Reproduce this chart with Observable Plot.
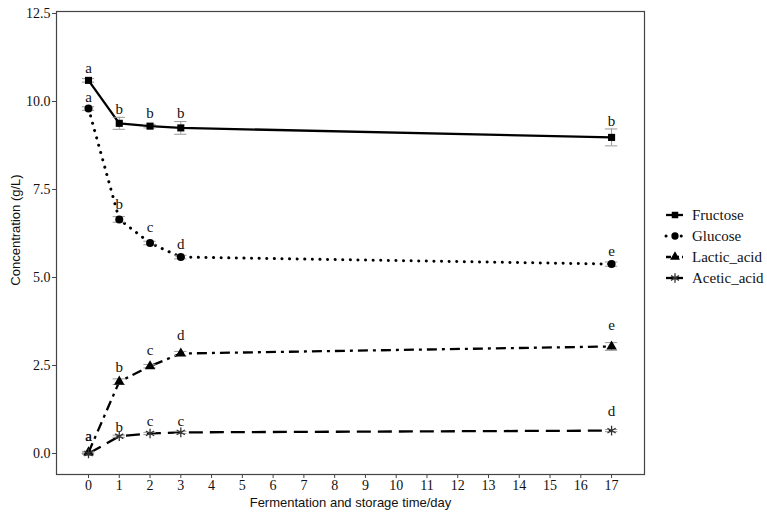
<!DOCTYPE html>
<html><head><meta charset="utf-8">
<script src="https://cdn.jsdelivr.net/npm/d3@7"></script>
<script src="https://cdn.jsdelivr.net/npm/@observablehq/plot@0.6"></script>
<style>
body{margin:0;background:#fff}
#wrap{position:relative;width:767px;height:519px}
#legend{position:absolute;left:660px;top:200px}
</style>
</head><body><div id="wrap"></div>
<script>
const days = [0, 1, 2, 3, 17];
const seriesNames = ["Fructose", "Glucose", "Lactic_acid", "Acetic_acid"];
const fructose = [10.6, 9.38, 9.3, 9.25, 8.98];
const glucose = [9.8, 6.65, 5.98, 5.58, 5.38];
const lactic = [0.03, 2.04, 2.48, 2.84, 3.04];
const acetic = [0.0, 0.49, 0.57, 0.6, 0.65];
const fructoseSd = [0.05, 0.17, 0.05, 0.18, 0.24];
const glucoseSd = [0.05, 0.08, 0.05, 0.05, 0.06];
const lacticSd = [0.03, 0.08, 0.05, 0.06, 0.11];
const aceticSd = [0.02, 0.03, 0.03, 0.03, 0.03];
const fructoseLetters = ["a", "b", "b", "b", "b"];
const glucoseLetters = ["a", "b", "c", "d", "e"];
const lacticLetters = ["a", "b", "c", "d", "e"];
const aceticLetters = ["a", "b", "c", "c", "d"];
const fructoseLetterY = [10.94, 9.77, 9.66, 9.66, 9.43];
const glucoseLetterY = [10.11, 7.07, 6.43, 5.96, 5.74];
const lacticLetterY = [0.48, 2.45, 2.93, 3.37, 3.64];
const aceticLetterY = [0.48, 0.75, 0.92, 0.92, 1.19];
const xTicks = d3.range(0, 18);
const yTicks = [0, 2.5, 5, 7.5, 10, 12.5];

const values = [fructose, glucose, lactic, acetic];
const sds = [fructoseSd, glucoseSd, lacticSd, aceticSd];
const letters = [fructoseLetters, glucoseLetters, lacticLetters, aceticLetters];
const letterYs = [fructoseLetterY, glucoseLetterY, lacticLetterY, aceticLetterY];

const rows = [];
seriesNames.forEach((s, i) => days.forEach((d, j) => rows.push({
  series: s, day: d, v: values[i][j], sd: sds[i][j], letter: letters[i][j], ly: letterYs[i][j]
})));

const styles = {
  Fructose: {dash: null, cap: "butt", symbol: "square", r: 4},
  Glucose: {dash: "0.1 7.5", cap: "round", symbol: "circle", r: 4},
  Lactic_acid: {dash: "10 5 3 5", cap: "butt", symbol: "triangle", r: 3.9},
  Acetic_acid: {dash: "14 7", cap: "butt", symbol: "asterisk", r: 4.5}
};

const lineMarks = seriesNames.map(s => Plot.line(rows.filter(d => d.series === s), {
  x: "day", y: "v", stroke: "black", strokeWidth: s === "Glucose" ? 3 : 2.3,
  strokeDasharray: styles[s].dash, strokeLinecap: styles[s].cap
}));
const dotMarks = seriesNames.map(s => Plot.dot(rows.filter(d => d.series === s), {
  x: "day", y: "v", symbol: () => styles[s].symbol, r: styles[s].r,
  fill: styles[s].symbol === "asterisk" ? "none" : "black",
  stroke: styles[s].symbol === "asterisk" ? "#333" : "none", strokeWidth: 1.3
}));

const chart = Plot.plot({
  width: 767, height: 519,
  marginLeft: 56, marginRight: 123, marginTop: 11, marginBottom: 45,
  style: {fontFamily: "'Liberation Serif', serif", fontSize: "14px", color: "#222", background: "white"},
  x: {domain: [-1.04, 18.07], label: null},
  y: {domain: [-0.597, 12.557], label: null},
  symbol: {domain: ["square", "circle", "triangle", "asterisk"], range: ["square", "circle", "triangle", "asterisk"]},
  marks: [
    Plot.axisX({ticks: xTicks, tickFormat: d => d, tickSize: 4, tickPadding: 2, stroke: "#444", fill: "#111", label: null}),
    Plot.axisY({ticks: yTicks, tickFormat: d3.format(".1f"), tickSize: 4, tickPadding: 2, stroke: "#444", fill: "#111", label: null}),
    ...lineMarks,
    Plot.ruleX(rows, {x: "day", y1: d => d.v - d.sd, y2: d => d.v + d.sd, stroke: "#999", strokeWidth: 1}),
    Plot.ruleY(rows, {y: d => d.v - d.sd, x1: d => d.day - 0.2, x2: d => d.day + 0.2, stroke: "#999", strokeWidth: 1}),
    Plot.ruleY(rows, {y: d => d.v + d.sd, x1: d => d.day - 0.2, x2: d => d.day + 0.2, stroke: "#999", strokeWidth: 1}),
    ...dotMarks,
    Plot.text(rows, {x: "day", y: "ly", text: "letter", fontSize: 15, fill: "#111", lineAnchor: "middle"}),
    Plot.frame({stroke: "#444", strokeWidth: 1.2}),
    Plot.text(["Fermentation and storage time/day"], {frameAnchor: "bottom", dy: 28, fontFamily: "'Liberation Sans', Arial, sans-serif", fontSize: 13, fill: "#111", lineAnchor: "middle"}),
    Plot.text(["Concentration (g/L)"], {frameAnchor: "left", dx: -41, dy: -13, rotate: -90, textAnchor: "middle", fontFamily: "'Liberation Sans', Arial, sans-serif", fontSize: 13, fill: "#111", lineAnchor: "middle"})
  ]
});
const wrap = document.getElementById("wrap");
wrap.appendChild(chart);

// Legend
const leg = d3.select(wrap).append("div").attr("id", "legend").append("svg").attr("width", 107).attr("height", 100);
const legSymbols = {Fructose: d3.symbolSquare, Glucose: d3.symbolCircle, Lactic_acid: d3.symbolTriangle, Acetic_acid: d3.symbolAsterisk};
seriesNames.forEach((s, i) => {
  const g = leg.append("g").attr("transform", `translate(0,${15 + i * 21})`);
  g.append("line").attr("x1", 6).attr("x2", 23).attr("y1", 0).attr("y2", 0)
    .attr("stroke", "black").attr("stroke-width", s === "Glucose" ? 3 : 2.3)
    .attr("stroke-dasharray", s === "Glucose" ? "0.1 7.5" : s === "Lactic_acid" ? "5 3" : null)
    .attr("stroke-linecap", styles[s].cap);
  const isAst = s === "Acetic_acid";
  g.append("path").attr("transform", "translate(15,0)")
    .attr("d", d3.symbol(legSymbols[s], isAst ? 60 : 42)())
    .attr("fill", isAst ? "none" : "black").attr("stroke", isAst ? "#333" : "none").attr("stroke-width", 1.3);
  g.append("text").attr("x", 32).attr("y", 0).attr("dy", "0.35em")
    .attr("font-family", "'Liberation Serif', serif").attr("font-size", 15).attr("fill", "#111").text(s);
});
</script>
</body></html>
